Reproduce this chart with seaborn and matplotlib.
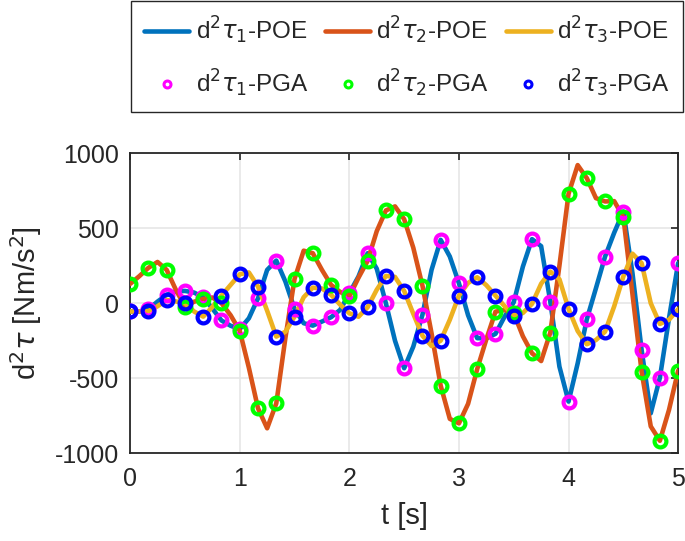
import numpy as np
import seaborn as sns
import matplotlib
matplotlib.use("Agg")
import matplotlib.pyplot as plt
from matplotlib.lines import Line2D

# curves sampled every 1/12 s, PGA points every 1/6 s (every second sample)
t = np.arange(61) / 12.0

tau1 = [-55, -55, -40, 11, 56, 78, 82, 71, 40, -35, -115, -150,
        -172, -100, 33, 222, 284, 144, -38, -133, -149, -122, -93, -44,
        67, 178, 333, 230, 0, -250, -433, -289, -78, 222, 422, 311,
        133, -80, -233, -233, -204, -89, 7, 244, 427, 380, 11, -422,
        -655, -400, -107, 100, 311, 470, 611, 200, -311, -733, -496, -100,
        267]
tau2 = [129, 180, 236, 275, 222, 90, -22, 10, 29, 38, 0, -80,
        -184, -430, -700, -833, -667, -230, 162, 350, 333, 222, 122, 75,
        45, 170, 282, 480, 618, 645, 560, 370, 118, -200, -549, -770,
        -800, -670, -438, -240, -56, -45, -67, -220, -333, -385, -196, 250,
        729, 920, 833, 700, 678, 680, 573, 60, -456, -820, -916, -710,
        -449]
tau3 = [-55, -55, -53, -20, 22, 12, 0, -55, -89, -25, 51, 122,
        193, 205, 111, -50, -222, -190, -89, 40, 104, 98, 56, -10,
        -67, -90, -27, 90, 182, 175, 82, -70, -216, -285, -249, -110,
        51, 135, 173, 120, 51, -20, -82, -65, -4, 130, 211, 160,
        -38, -185, -273, -245, -189, -20, 178, 330, 267, 0, -138, -110,
        -40]

line_colors = ["#0072BD", "#D95319", "#EDB120"]
pt_colors = ["#FF00FF", "#00FF00", "#0000FF"]
poe_labels = [r"d$^2\tau_1$-POE", r"d$^2\tau_2$-POE", r"d$^2\tau_3$-POE"]
pga_labels = [r"d$^2\tau_1$-PGA", r"d$^2\tau_2$-PGA", r"d$^2\tau_3$-PGA"]

sns.set_style("white")
plt.rcParams["font.family"] = ["Liberation Sans", "DejaVu Sans"]
plt.rcParams["mathtext.fontset"] = "dejavusans"
plt.rcParams["axes.unicode_minus"] = False

fig = plt.figure(figsize=(6.85, 5.41), dpi=100)
ax = fig.add_axes([0.19, 0.162, 0.80, 0.555])

series = [tau1, tau2, tau3]
for vals, c in zip(series, line_colors):
    sns.lineplot(x=t, y=vals, ax=ax, color=c, linewidth=3.3, zorder=3)

for vals, c in zip(series, pt_colors):
    sns.lineplot(x=t[::2], y=np.array(vals)[::2], ax=ax, linewidth=0,
                 marker="o", markersize=8.5, markerfacecolor="none",
                 markeredgecolor=c, markeredgewidth=3.0, zorder=4)

ax.set_xlim(0, 5)
ax.set_ylim(-1000, 1000)
ax.set_xticks([0, 1, 2, 3, 4, 5])
ax.set_yticks([-1000, -500, 0, 500, 1000])
ax.grid(True, color="#e6e6e6", linewidth=1.2)
ax.set_axisbelow(True)
ax.tick_params(direction="in", length=5, width=1.2, labelsize=18,
               top=True, right=True, colors="#262626")
ax.tick_params(axis="x", pad=10)
ax.tick_params(axis="y", pad=8)
for s in ax.spines.values():
    s.set_linewidth(1.3)
    s.set_color("#262626")
ax.set_xlabel("t [s]", fontsize=21, labelpad=8)
ax.set_ylabel(r"d$^2\tau$ [Nm/s$^2$]", fontsize=21, labelpad=8)

# legend fills column by column, so interleave POE / PGA entries
handles, labels = [], []
for i in range(3):
    handles.append(Line2D([], [], color=line_colors[i], lw=3.3))
    labels.append(poe_labels[i])
    handles.append(Line2D([], [], ls="none", marker="o", markersize=5,
                          markerfacecolor="none", markeredgecolor=pt_colors[i],
                          markeredgewidth=2.2))
    labels.append(pga_labels[i])
leg = fig.legend(handles, labels, ncol=3, fontsize=17.5,
                 loc="upper center", bbox_to_anchor=(0.594, 0.998),
                 borderaxespad=0, fancybox=False, framealpha=1,
                 edgecolor="#262626", handlelength=1.85, columnspacing=0.7,
                 handletextpad=0.25, borderpad=0.55, labelspacing=0.9)
leg.get_frame().set_linewidth(1.0)

fig.savefig("out.png", dpi=100)
